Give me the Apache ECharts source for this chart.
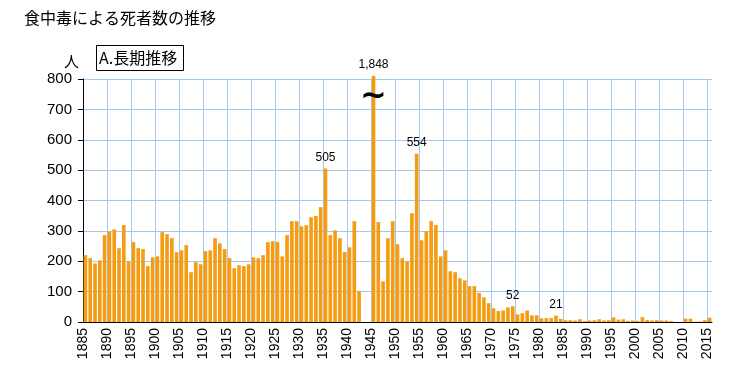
<!DOCTYPE html>
<html><head><meta charset="utf-8">
<script src="https://cdn.jsdelivr.net/npm/echarts@6/dist/echarts.min.js"></script>
<style>html,body{margin:0;padding:0;background:#fff}#c{width:735px;height:382px}</style>
</head><body><div id="c"></div>
<script>
const startYear = 1885;
const endYear = 2015;
const years = [];
for (let y = startYear; y <= endYear; y++) years.push(String(y));
const deaths = [
  220,210,193,203,286,298,305,243,319,199,
  263,243,240,184,213,216,296,289,276,230,
  236,253,164,197,190,233,236,276,259,240,
  210,177,187,184,190,213,210,220,263,266,
  263,216,286,332,332,315,319,345,349,378,
  505,286,302,276,230,246,332,102,null,null,
  1848,329,134,276,332,256,210,199,358,554,
  269,299,332,319,216,236,167,164,144,137,
  118,118,96,81,62,45,36,38,48,52,
  25,29,38,22,22,12,13,13,21,10,
  6,6,5,9,3,5,6,9,5,6,
  15,8,9,4,5,4,16,7,5,6,
  5,5,3,0,0,11,11,1,2,6,
  14
];
const labelYears = ['1935','1945','1954','1974','1983'];
const breakYear = '1945';
const yMax = 800;
const displayCap = 810;
const yTicks = 100;
const xLabelStep = 5;

const gridColor = '#a3c9ef';
const barColor = '#f49d14';
const numFont = '"Liberation Sans", Arial, sans-serif';
const jpFont = '"Noto Sans CJK JP", sans-serif';

const chart = echarts.init(document.getElementById('c'), null, {renderer: 'canvas'});
const fmt = v => String(v).replace(/\B(?=(\d{3})+(?!\d))/g, ',');

const barData = deaths.map((v, i) => ({
  value: v == null ? '-' : Math.min(v, displayCap),
  label: {show: labelYears.includes(years[i])}
}));

chart.setOption({
  animation: false,
  backgroundColor: '#fff',
  grid: {left: 83, top: 79, width: 629, height: 243, containLabel: false},
  xAxis: [
    {
      type: 'category', data: years, boundaryGap: true,
      axisLine: {show: true, lineStyle: {color: '#000', width: 1}},
      axisTick: {show: false},
      axisLabel: {show: false},
      splitLine: {show: true, showMaxLine: false, interval: (i) => i % xLabelStep === 0,
        lineStyle: {color: gridColor, width: 1}}
    },
    {
      type: 'value', min: startYear, max: endYear + 1, interval: xLabelStep, position: 'bottom',
      axisLine: {show: false}, axisTick: {show: false}, splitLine: {show: false},
      axisLabel: {show: true, rotate: 90, margin: 6, showMaxLabel: false, color: '#000',
        fontSize: 14, fontFamily: numFont, formatter: v => String(v)}
    }
  ],
  yAxis: {
    type: 'value', min: 0, max: yMax, interval: yTicks,
    axisLine: {show: true, lineStyle: {color: '#000', width: 1}},
    axisTick: {show: true, length: 5, lineStyle: {color: '#000'}},
    axisLabel: {color: '#000', fontSize: 15, fontFamily: numFont, margin: 11},
    splitLine: {show: true, lineStyle: {color: gridColor, width: 1}}
  },
  series: [{
    type: 'bar', xAxisIndex: 0, yAxisIndex: 0,
    data: barData, barWidth: '76%', clip: false,
    itemStyle: {color: barColor},
    label: {show: false, position: 'top', distance: 5, color: '#000', fontSize: 12, fontFamily: numFont,
      formatter: p => fmt(deaths[p.dataIndex])}
  }]
});

const tildePos = chart.convertToPixel({xAxisIndex: 0, yAxisIndex: 0}, [breakYear, 742]);
chart.setOption({
  graphic: [
    {type: 'text', left: 24, top: 10, z: 100,
      style: {text: '食中毒による死者数の推移', font: '16px ' + jpFont, fill: '#000'}},
    {type: 'text', left: 64, top: 54, z: 100,
      style: {text: '人', font: '15px ' + jpFont, fill: '#000'}},
    {type: 'rect', shape: {x: 96.5, y: 45.5, width: 87, height: 25}, z: 100,
      style: {fill: '#fff', stroke: '#000', lineWidth: 1}},
    {type: 'text', x: 99, y: 58, z: 101,
      style: {text: 'A.長期推移', font: '16px ' + jpFont, fill: '#000', textVerticalAlign: 'middle'}},
    {type: 'text', x: tildePos[0], y: tildePos[1], z: 102,
      style: {text: '~', font: 'bold 32px "DejaVu Sans", sans-serif', fill: '#000',
        textAlign: 'center', textVerticalAlign: 'middle'}}
  ]
});
</script></body></html>
